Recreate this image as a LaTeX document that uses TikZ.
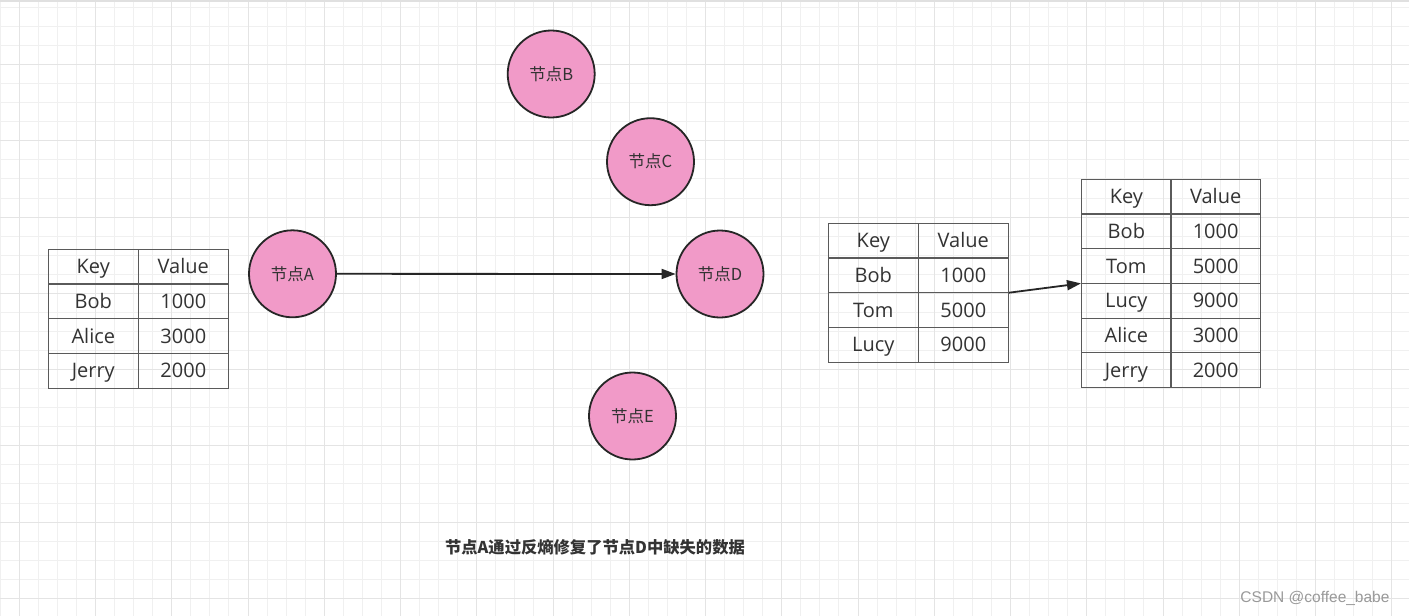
\documentclass[tikz,border=0pt]{standalone}
\usepackage{fontspec}
\setmainfont{Noto Sans CJK SC}
\newfontfamily\tabfont{Open Sans}
\newfontfamily\wmfont{Liberation Sans}
\usetikzlibrary{arrows.meta,fit}
\definecolor{gridminor}{HTML}{F0F0F0}
\definecolor{gridmajor}{HTML}{E4E4E4}
\definecolor{nodepink}{HTML}{F19AC8}
\definecolor{inkdark}{HTML}{262626}
\definecolor{txt}{HTML}{333333}
\definecolor{cellline}{HTML}{5A5A5A}
\tikzset{
  peer/.style={circle, draw=inkdark, line width=1.8pt, fill=nodepink, minimum size=87pt, inner sep=0pt,
    text=txt, font=\fontsize{16.5}{18}\selectfont},
  cell/.style={draw=cellline, line width=1.1pt, minimum height=34.7pt, inner sep=0pt,
    text height=18pt, text depth=3.7pt,
    text=txt, font=\tabfont\fontsize{20}{22}\selectfont},
  flow/.style={draw=inkdark, line width=1.8pt, -{Triangle[length=14pt,width=10pt]}},
}
% name, left x, top y, column width, last row index, rows
\newcommand\kvtable[6]{%
  \foreach [count=\i from 0] \k/\v in {#6} {
    \node[cell, minimum width=#4pt] (#1-\i-k) at ({#2+#4/2},{#3+17.35+34.7*\i}) {\k};
    \node[cell, minimum width=#4pt] (#1-\i-v) at ({#2+#4*1.5},{#3+17.35+34.7*\i}) {\v};
  }
  \node[fit=(#1-0-k)(#1-#5-v), inner sep=0pt] (#1) {};
}
\begin{document}
\begin{tikzpicture}[x=1pt,y=-1pt]
\useasboundingbox (0,0) rectangle (1409,616);
\fill[white] (0,0) rectangle (1409,616);
% grid
\foreach \k in {-1,...,73} \draw[gridminor, line width=1pt] ({19.3+19.0625*\k},0) -- ++(0,616);
\foreach \k in {-4,...,30} \draw[gridminor, line width=1pt] (0,{64.6+19.0625*\k}) -- ++(1409,0);
\foreach \k in {0,...,18} \draw[gridmajor, line width=1.1pt] ({19.3+76.25*\k},0) -- ++(0,616);
\foreach \k in {-1,...,7} \draw[gridmajor, line width=1.1pt] (0,{64.6+76.25*\k}) -- ++(1409,0);
\draw[black!12, line width=1.5pt] (0,1) -- (1409,1);

% peers
\node[peer] (A) at (292.5,273.8) {节点A};
\node[peer] (B) at (551.2,74) {节点B};
\node[peer] (C) at (650.5,161.7) {节点C};
\node[peer] (D) at (720,274) {节点D};
\node[peer] (E) at (632.5,416) {节点E};

% tables
\kvtable{ta}{48.3}{249.3}{90}{3}{Key/Value, Bob/1000, Alice/3000, Jerry/2000}
\kvtable{tb}{828.3}{223.3}{90}{3}{Key/Value, Bob/1000, Tom/5000, Lucy/9000}
\kvtable{tc}{1081.7}{179.3}{89.3}{5}{Key/Value, Bob/1000, Tom/5000, Lucy/9000, Alice/3000, Jerry/2000}

% connectors
\draw[flow] (A) -- (D);
\draw[flow] (tb.east) -- (tc.west);

% caption
\node[text=txt, font=\bfseries\fontsize{16.3}{18}\selectfont] (cap) at (595,547) {节点A通过反熵修复了节点D中缺失的数据};
\node[text=black!40, font=\wmfont\fontsize{15.5}{17}\selectfont, anchor=east] (wm) at (1393,598) {CSDN @coffee\_babe};
\end{tikzpicture}
\end{document}
